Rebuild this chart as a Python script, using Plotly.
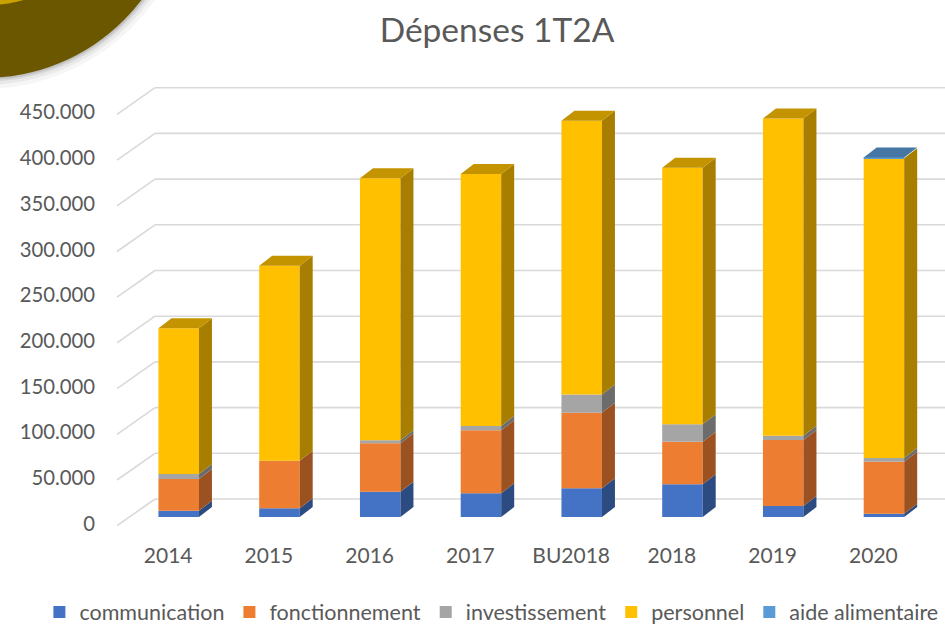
import plotly.graph_objects as go

# ---------------- data ----------------
categories = ["2014", "2015", "2016", "2017", "BU2018", "2018", "2019", "2020"]
communication = [6900, 9500, 27700, 26000, 31400, 35800, 12000, 3600]
fonctionnement = [34700, 52100, 52900, 69000, 82600, 46600, 72200, 56900]
investissement = [5400, 0, 3400, 4600, 20000, 19000, 4800, 4000]
personnel = [159400, 213400, 286500, 275700, 299600, 280600, 347000, 328000]
aide_alimentaire = [0, 0, 0, 0, 0, 0, 0, 800]
y_ticks = [0, 50000, 100000, 150000, 200000, 250000, 300000, 350000, 400000, 450000]

series_names = ["communication", "fonctionnement", "investissement", "personnel", "aide alimentaire"]
series_values = [communication, fonctionnement, investissement, personnel, aide_alimentaire]
series_colors = ["#4472C4", "#ED7D31", "#A5A5A5", "#FFC000", "#5B9BD5"]

# ---------------- geometry (pixel frame of a 945x624 page) ----------------
W, H = 945, 624
X0, XS = 178.7, 100.75      # px of first category front-face centre, px per category
Y0, YS = 517.0, 0.000914    # px of value 0 on the bar front plane, px per unit


def xd(px):
    return (px - X0) / XS


def yd(py):
    return (Y0 - py) / YS


BAR_W = 40.5 / XS
DDX, DDY = 13.0 / XS, 10.0 / YS          # bar depth
WALL_DX_PX, WALL_DY_PX = 155.0, 18.0     # back wall left edge px, back wall lift px
FRONT_X_PX, FRONT_DY_PX = 117.0, 8.7     # floor front edge px, drop px

TEXT = "#595959"
FONT = "Lato"


def shade(hex_color, f):
    h = hex_color.lstrip("#")
    r, g, b = (int(h[i:i + 2], 16) for i in (0, 2, 4))
    return "#%02x%02x%02x" % (int(r * f), int(g * f), int(b * f))


fig = go.Figure()

# front faces (real stacked bars with explicit bases)
n = len(categories)
xs = list(range(n))
bases = [0.0] * n
tops_by_series = []
for name, vals, col in zip(series_names, series_values, series_colors):
    fig.add_trace(go.Bar(
        x=xs, y=vals, base=bases[:], width=BAR_W, name=name,
        marker=dict(color=col, line=dict(width=0)),
        hovertemplate="%{y:,d}<extra>" + name + "</extra>",
    ))
    tops_by_series.append([b + v for b, v in zip(bases, vals)])
    bases = [b + v for b, v in zip(bases, vals)]

# side faces of every segment
for si, (vals, col) in enumerate(zip(series_values, series_colors)):
    side = shade(col, 0.66)
    for i in range(n):
        if vals[i] <= 0:
            continue
        top = tops_by_series[si][i]
        bot = top - vals[i]
        xr = i + BAR_W / 2
        fig.add_trace(go.Scatter(
            x=[xr, xr + DDX, xr + DDX, xr, xr],
            y=[bot, bot + DDY, top + DDY, top, bot],
            mode="lines", fill="toself", fillcolor=side,
            line=dict(width=0, color=side), showlegend=False, hoverinfo="skip",
        ))

# top faces (colour of the highest non-zero series)
for i in range(n):
    top_series = max(si for si in range(len(series_values)) if series_values[si][i] > 0)
    col = shade(series_colors[top_series], 0.77)
    T = bases[i]
    xl, xr = i - BAR_W / 2, i + BAR_W / 2
    fig.add_trace(go.Scatter(
        x=[xl, xl + DDX, xr + DDX, xr, xl],
        y=[T, T + DDY, T + DDY, T, T],
        mode="lines", fill="toself", fillcolor=col,
        line=dict(width=0, color=col), showlegend=False, hoverinfo="skip",
    ))

# value axis labels (front floor edge)
fig.add_trace(go.Scatter(
    x=[xd(95)] * len(y_ticks),
    y=[v - FRONT_DY_PX / YS for v in y_ticks],
    mode="text", text=[f"{v:,d}".replace(",", ".") for v in y_ticks],
    textposition="middle left", textfont=dict(family=FONT, size=20.3, color=TEXT),
    showlegend=False, hoverinfo="skip",
))

# category labels
fig.add_trace(go.Scatter(
    x=[i - 10.5 / XS for i in xs], y=[yd(558)] * n,
    mode="text", text=categories, textposition="middle center",
    textfont=dict(family=FONT, size=21, color=TEXT),
    showlegend=False, hoverinfo="skip",
))

# gridlines: back wall + diagonal floor lines (from tick values)
shapes = []
grid = dict(color="#d9d9d9", width=1.6)
for v in y_ticks:
    vb = v + WALL_DY_PX / YS
    vf = v - FRONT_DY_PX / YS
    shapes.append(dict(type="line", xref="x", yref="y", layer="below",
                       x0=xd(WALL_DX_PX), x1=xd(W + 5), y0=vb, y1=vb, line=grid))
    shapes.append(dict(type="line", xref="x", yref="y", layer="below",
                       x0=xd(FRONT_X_PX), x1=xd(WALL_DX_PX), y0=vf, y1=vb, line=grid))


# decorative disc in the top-left corner
def pc(px, py):
    return px / W, 1 - py / H


cx, cy, r = -16, -120, 198
for rr, colr in [(r + 11, "rgba(0,0,0,0.035)"), (r + 7, "rgba(0,0,0,0.05)"),
                 (r + 4, "rgba(0,0,0,0.07)"), (r + 2, "rgba(0,0,0,0.10)")]:
    x0, y1 = pc(cx - rr, cy - rr)
    x1, y0 = pc(cx + rr, cy + rr)
    shapes.append(dict(type="circle", xref="paper", yref="paper", layer="below",
                       x0=x0, x1=x1, y0=y0, y1=y1, fillcolor=colr, line=dict(width=0)))
x0, y1 = pc(cx - r, cy - r)
x1, y0 = pc(cx + r, cy + r)
shapes.append(dict(type="circle", xref="paper", yref="paper", layer="below",
                   x0=x0, x1=x1, y0=y0, y1=y1, fillcolor="#6b5700", line=dict(width=0)))
# golden highlight sliver
x0, y1 = pc(-70, -40)
x1, y0 = pc(45, 5)
shapes.append(dict(type="circle", xref="paper", yref="paper", layer="below",
                   x0=x0, x1=x1, y0=y0, y1=y1, fillcolor="rgba(235,185,0,0.75)", line=dict(width=0)))

fig.update_layout(
    width=W, height=H, autosize=False,
    margin=dict(l=0, r=0, t=0, b=0, autoexpand=False),
    paper_bgcolor="white", plot_bgcolor="rgba(0,0,0,0)",
    barmode="overlay", separators=",.",
    title=dict(text="Dépenses 1T2A", x=497 / W, xanchor="center", y=1 - 30 / H, yanchor="middle",
               font=dict(family=FONT, size=33.5, color=TEXT)),
    xaxis=dict(range=[xd(0), xd(W)], domain=[0, 1], visible=False, fixedrange=True),
    yaxis=dict(range=[yd(H), yd(0)], domain=[0, 1], visible=False, fixedrange=True),
    legend=dict(orientation="h", x=0.52, xanchor="center", y=1 - 612 / H, yanchor="middle",
                font=dict(family=FONT, size=21.5, color=TEXT), bgcolor="rgba(0,0,0,0)",
                itemclick=False, itemdoubleclick=False),
    shapes=shapes,
    showlegend=True,
)

fig.write_html("out.html", config={"displayModeBar": False},
               post_script="document.body.style.margin='0';document.body.style.overflow='hidden';")
